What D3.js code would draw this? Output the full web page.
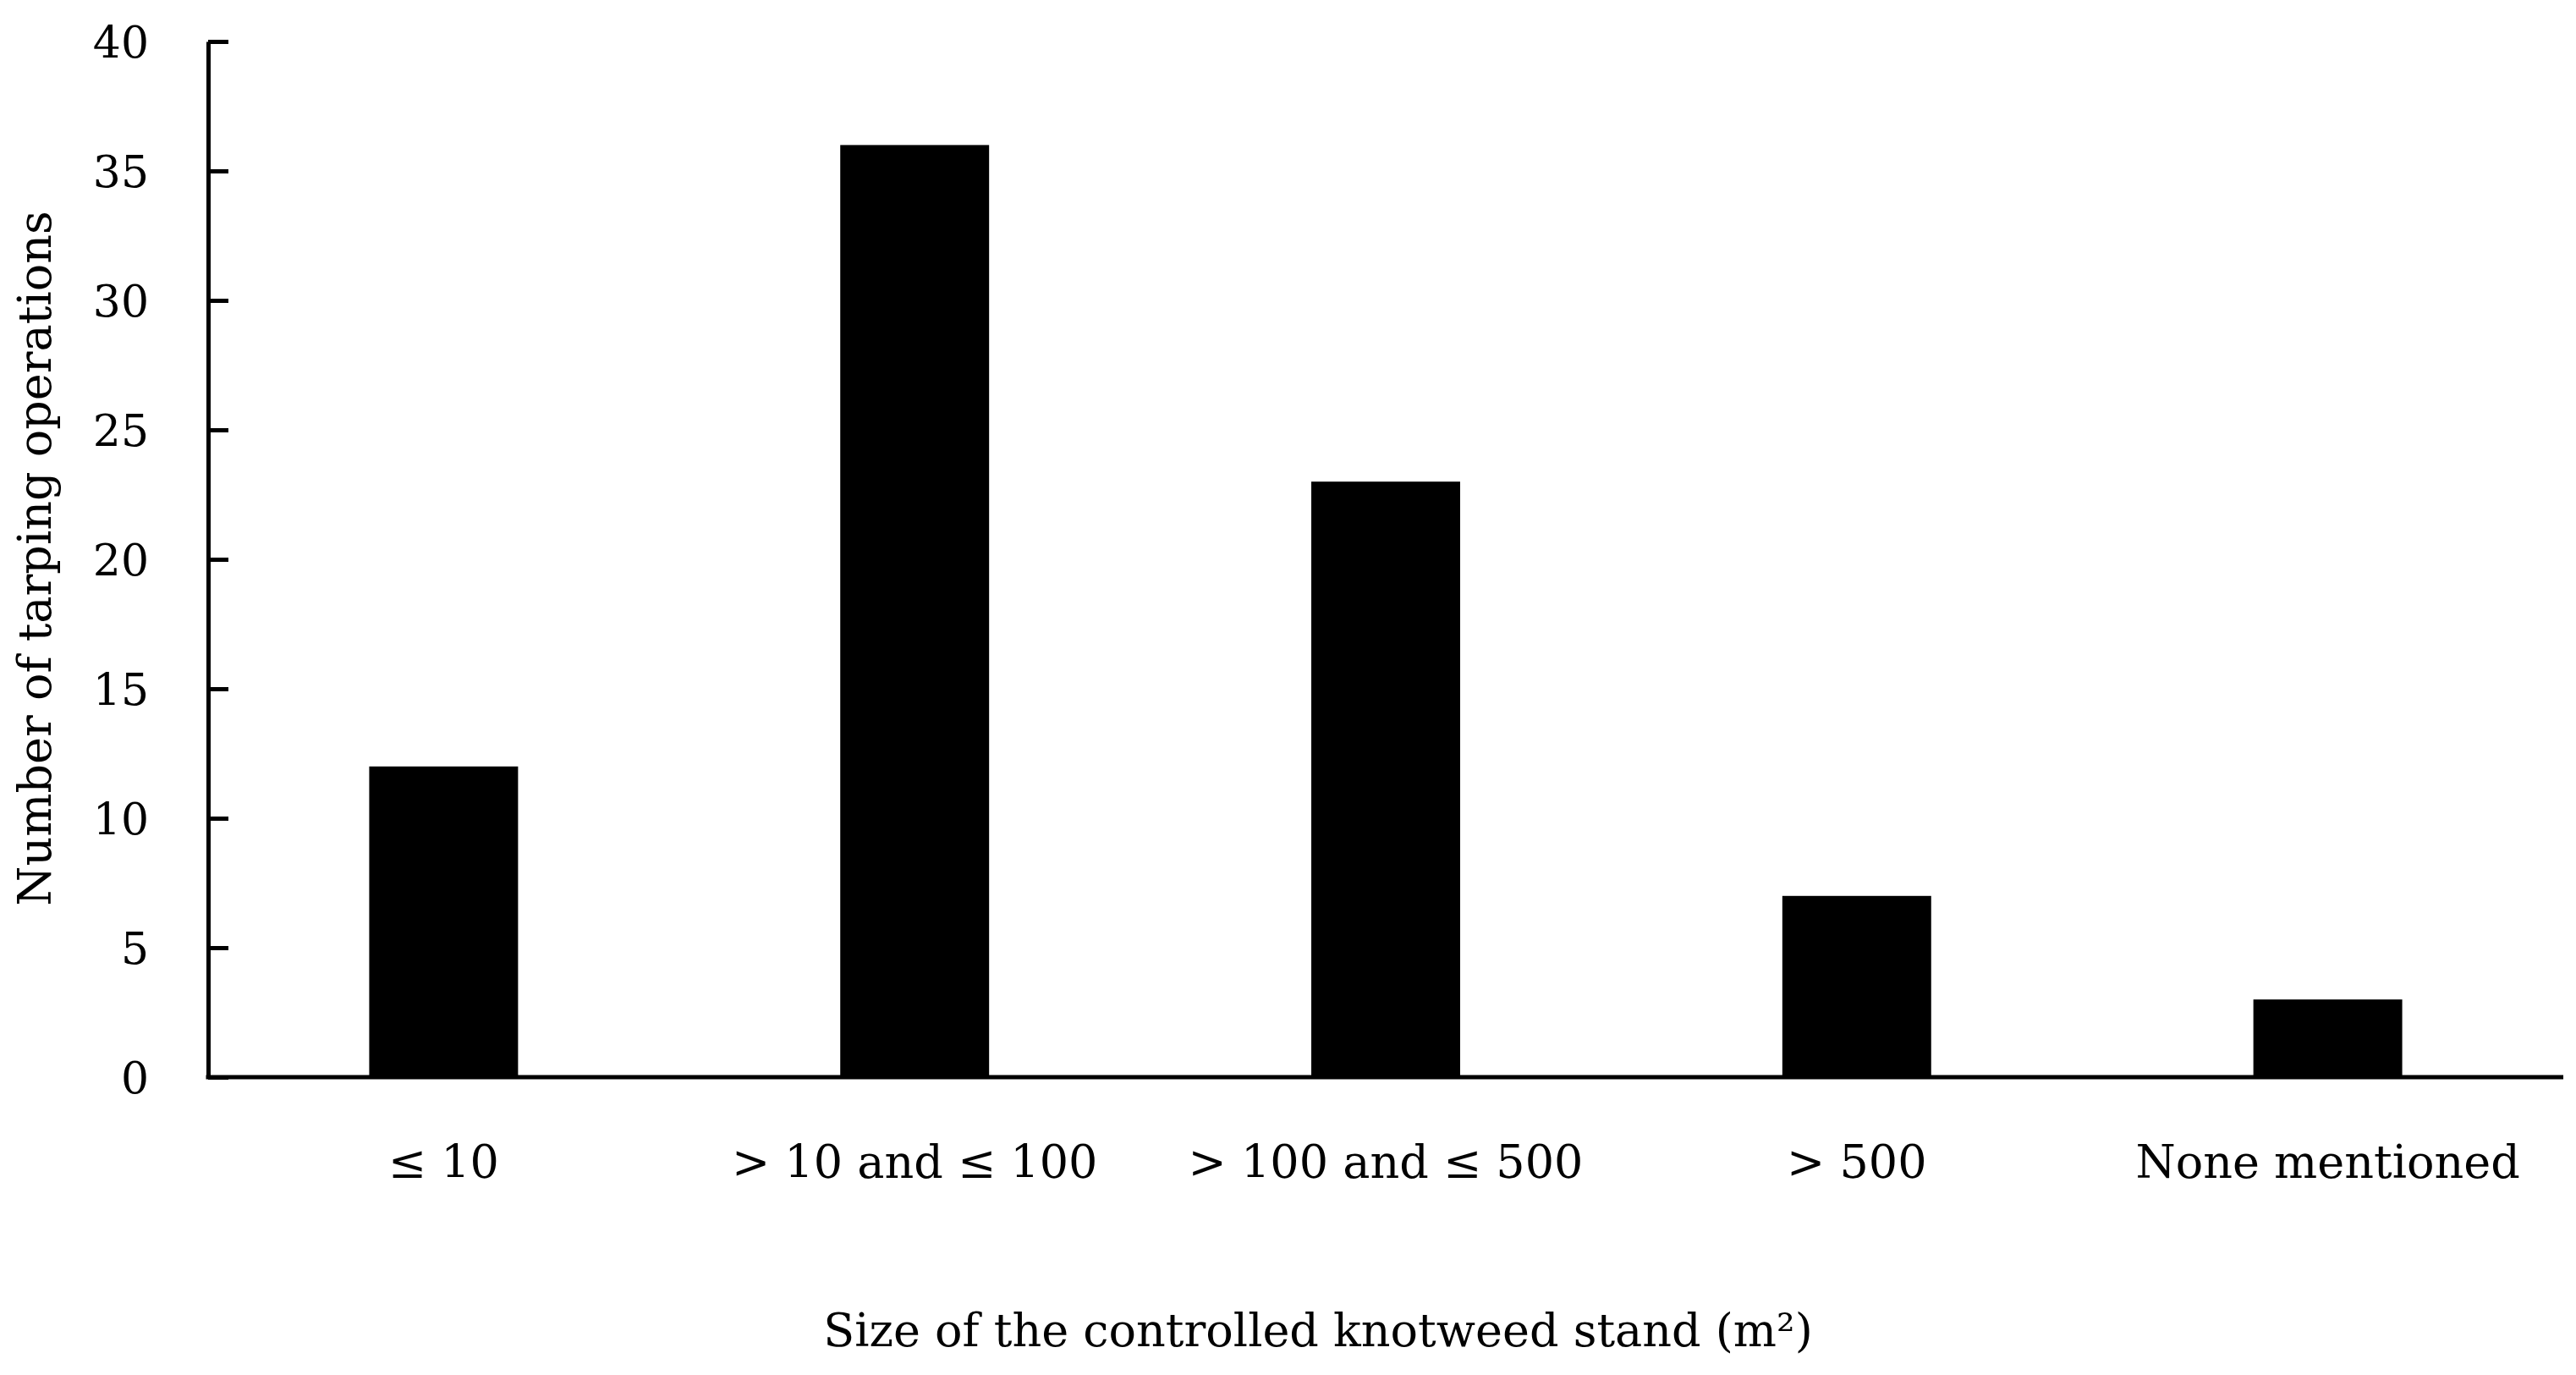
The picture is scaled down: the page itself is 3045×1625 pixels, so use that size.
<!DOCTYPE html>
<html><head><meta charset="utf-8">
<script src="https://cdn.jsdelivr.net/npm/d3@7"></script>
<style>body{margin:0;background:#fff}text{font-family:"DejaVu Serif","Liberation Serif",serif;fill:#000}</style>
</head><body>
<script>
const categories = ["≤ 10", "> 10 and ≤ 100", "> 100 and ≤ 500", "> 500", "None mentioned"];
const values = [12, 36, 23, 7, 3];
const yTicks = [0, 5, 10, 15, 20, 25, 30, 35, 40];

const W = 3045, H = 1625;
const plotLeft = 246, plotRight = 3030, plotTop = 49, plotBase = 1273;

const svg = d3.select("body").append("svg").attr("width", W).attr("height", H);

const x = d3.scaleBand().domain(categories).range([plotLeft, plotRight])
    .paddingInner(0.684).paddingOuter(0.342);
const y = d3.scaleLinear().domain([0, 40]).range([plotBase, plotTop]);

svg.selectAll(".bar").data(values).enter().append("rect")
    .attr("x", (d, i) => x(categories[i]))
    .attr("y", d => y(d))
    .attr("width", x.bandwidth())
    .attr("height", d => plotBase - y(d))
    .attr("fill", "#000");

const yAxis = svg.append("g").attr("transform", "translate(" + plotLeft + ",0)")
    .call(d3.axisRight(y).tickValues(yTicks).tickSize(24).tickSizeOuter(0).tickFormat(d3.format("d")));
yAxis.select(".domain").attr("stroke-width", 5);
yAxis.selectAll(".tick line").attr("stroke-width", 5);
yAxis.selectAll(".tick text").attr("x", -70).attr("text-anchor", "end")
    .attr("font-size", 52).attr("font-family", "DejaVu Serif").attr("dy", "0.35em");

svg.append("line").attr("x1", plotLeft - 2.5).attr("x2", plotRight).attr("y1", plotBase).attr("y2", plotBase)
    .attr("stroke", "#000").attr("stroke-width", 5);

svg.selectAll(".xl").data(categories).enter().append("text")
    .attr("x", d => x(d) + x.bandwidth() / 2).attr("y", 1392)
    .attr("text-anchor", "middle").attr("font-size", 54).text(d => d);

svg.append("text").attr("x", (plotLeft + plotRight) / 2 - 80).attr("y", 1591)
    .attr("text-anchor", "middle").attr("font-size", 54)
    .text("Size of the controlled knotweed stand (m²)");

svg.append("text").attr("transform", "translate(60,660) rotate(-90)")
    .attr("text-anchor", "middle").attr("font-size", 54)
    .text("Number of tarping operations");
</script>
</body></html>
